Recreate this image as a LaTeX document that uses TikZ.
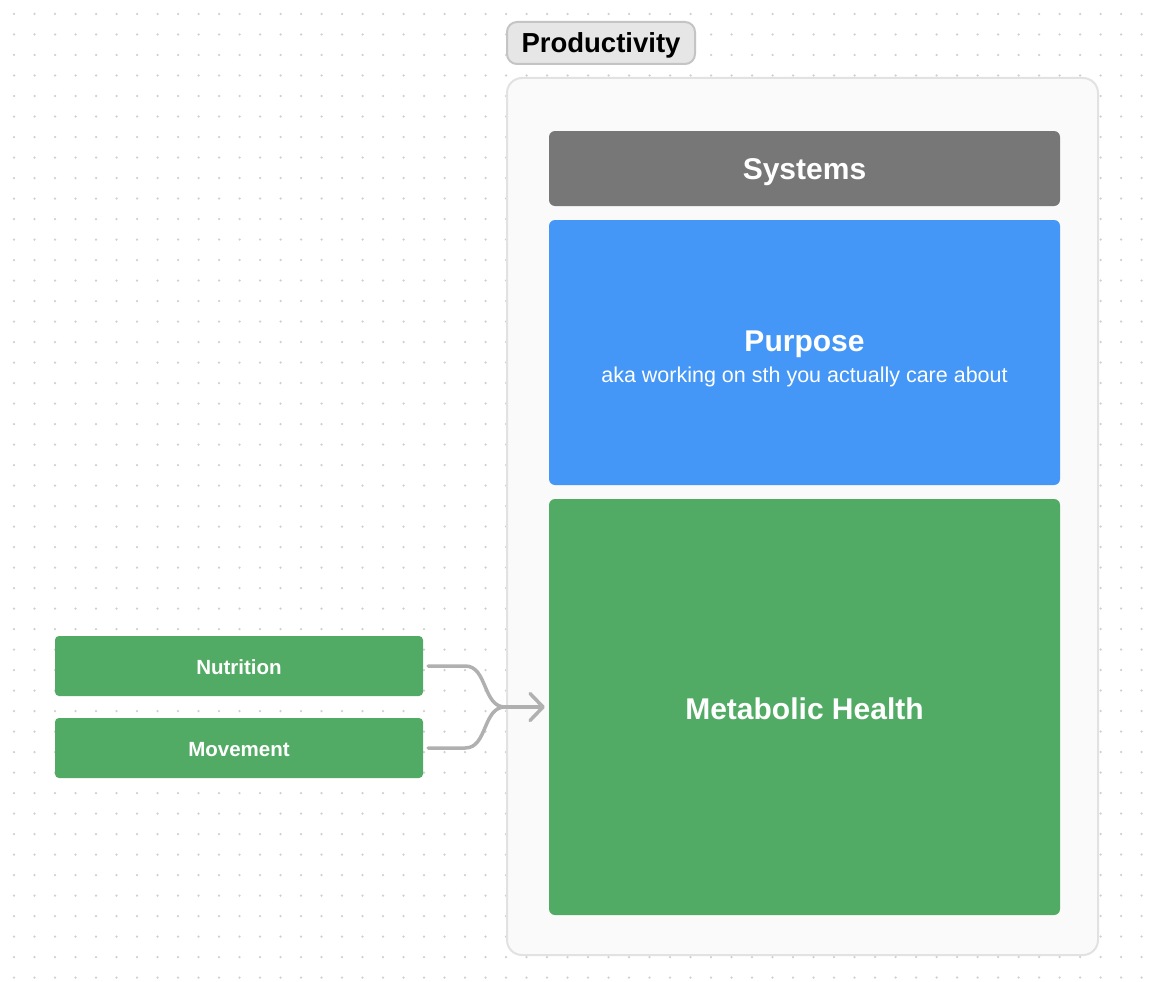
\documentclass[tikz,border=0pt]{standalone}
\usepackage{fontspec}
\setmainfont{Liberation Sans}
\usetikzlibrary{arrows.meta}
\definecolor{dotc}{HTML}{CFCFCF}
\definecolor{contfill}{HTML}{FAFAFA}
\definecolor{contline}{HTML}{E2E2E2}
\definecolor{labfill}{HTML}{E6E6E6}
\definecolor{labline}{HTML}{C4C4C4}
\definecolor{sysgray}{HTML}{777777}
\definecolor{purblue}{HTML}{4597F7}
\definecolor{metgreen}{HTML}{52AB64}
\definecolor{conn}{HTML}{B0B0B0}
\tikzset{
  box/.style={rectangle, inner sep=0pt, draw=none, rounded corners=6pt},
  smallbox/.style={rectangle, inner sep=0pt, draw=none, rounded corners=4pt, fill=metgreen,
     minimum width=368pt, minimum height=60pt},
  smalltext/.style={text=white, inner sep=0pt, anchor=base, font=\fontsize{20.5}{24}\selectfont\bfseries},
  bigtext/.style={text=white, inner sep=0pt, anchor=base, font=\fontsize{30}{36}\selectfont\bfseries},
  subtext/.style={text=white, inner sep=0pt, anchor=base, font=\fontsize{21.5}{26}\selectfont},
  connector/.style={draw=conn, line width=3.5pt, line cap=round, line join=round},
}
\begin{document}
\begin{tikzpicture}[x=1pt,y=-1pt]
\useasboundingbox (0,0) rectangle (1154,982);
\fill[white] (0,0) rectangle (1154,982);
% dot grid
\foreach \i in {0,...,55}{
  \foreach \j in {0,...,47}{
    \fill[dotc] ({14+20.5*\i},{14+20.5*\j}) circle (1.25pt);
  }
}
% container
\node[rectangle, draw=contline, line width=2pt, fill=contfill, rounded corners=15pt,
      minimum width=591pt, minimum height=877pt, inner sep=0pt] (cont) at (802.5,516.5) {};
% label
\node[rectangle, draw=labline, line width=2pt, fill=labfill, rounded corners=10pt,
      minimum width=188pt, minimum height=42pt, inner sep=0pt] (prod) at (601,43) {};
\node[inner sep=0pt, anchor=base, font=\fontsize{27.5}{32}\selectfont\bfseries, text=black] (prodtxt) at (601,52.5) {Productivity};
% systems
\node[box, fill=sysgray, minimum width=511pt, minimum height=75pt] (sys) at (804.5,168.5) {};
\node[bigtext] (systxt) at (804.5,179) {Systems};
% purpose
\node[box, fill=purblue, minimum width=511pt, minimum height=265pt] (pur) at (804.5,352.5) {};
\node[bigtext] (purtxt) at (804.5,351.5) {Purpose};
\node[subtext] (pursub) at (804.5,382.5) {aka working on sth you actually care about};
% metabolic
\node[box, fill=metgreen, minimum width=511pt, minimum height=416pt] (met) at (804.5,707) {};
\node[bigtext] (mettxt) at (804.5,719) {Metabolic Health};
% small boxes
\node[smallbox] (nut) at (239,666) {};
\node[smalltext] (nuttxt) at (239,674) {Nutrition};
\node[smallbox] (mov) at (239,748) {};
\node[smalltext] (movtxt) at (239,756) {Movement};
% connectors
\coordinate (j) at (505,707);
\draw[connector] ([xshift=5pt]nut.east) -- ++(37,0) to[out=0,in=180] (j);
\draw[connector] ([xshift=5pt]mov.east) -- ++(37,0) to[out=0,in=180] (j);
\draw[connector, -{Straight Barb[length=13pt,width=27pt,round]}] (j) -- ([xshift=-4pt]met.west);
\end{tikzpicture}
\end{document}
